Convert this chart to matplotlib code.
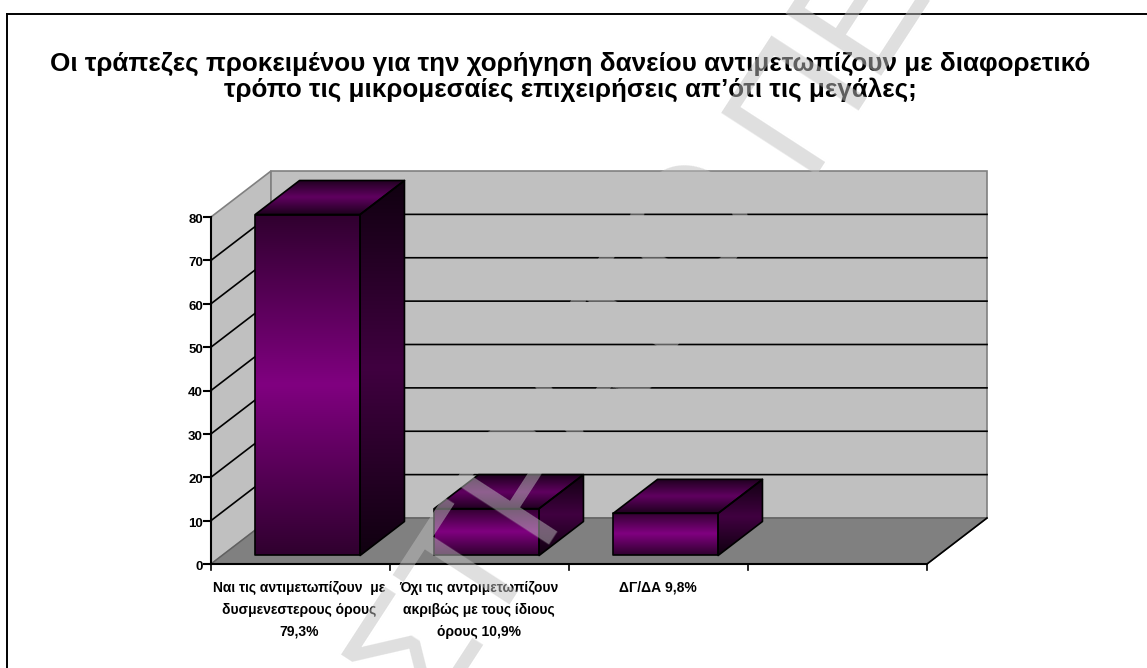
import matplotlib
matplotlib.use("Agg")
import matplotlib.pyplot as plt
import numpy as np
from matplotlib.patches import Polygon
from matplotlib.colors import LinearSegmentedColormap

TITLE = ("Οι τράπεζες προκειμένου για την χορήγηση δανείου αντιμετωπίζουν με διαφορετικό\n"
         "τρόπο τις μικρομεσαίες επιχειρήσεις απ’ότι τις μεγάλες;")
categories = ["Ναι τις αντιμετωπίζουν  με\nδυσμενεστερους όρους\n79,3%",
              "Όχι τις αντριμετωπίζουν\nακριβώς με τους ίδιους\nόρους 10,9%",
              "ΔΓ/ΔΑ 9,8%"]
values = [79.3, 10.9, 9.8]
y_ticks = [0, 10, 20, 30, 40, 50, 60, 70, 80]
n_slots = 4

W, H = 1147, 668
plt.rcParams["font.family"] = ["Liberation Sans", "DejaVu Sans"]
fig = plt.figure(figsize=(W / 100, H / 100), dpi=100)

# front plane of the 3d chart, in figure pixels
x0, x1, y0, y1 = 211, 927, 564, 217
px_x = (x1 - x0) / n_slots
px_y = (y0 - y1) / 80
depth_x = 60 / px_x    # floor depth in category units
depth_y = 46 / px_y    # floor depth in value units
bar_scale = 4.3 / px_y  # bars come out slightly shorter than the wall scale

# axes fill the figure, the limits put the category and value scales in place
ax = fig.add_axes([0, 0, 1, 1])
ax.axis("off")


def proj(x, y, d):
    return (x + d * depth_x, y + d * depth_y)


def shaded(pts, cmap):
    poly = Polygon(pts, closed=True, fc="none", ec="black", lw=1.2, zorder=5, joinstyle="round")
    ax.add_patch(poly)
    xs, ys = zip(*pts)
    grad = np.abs(np.linspace(-1, 1, 128)).reshape(-1, 1)
    im = ax.imshow(grad, cmap=cmap, vmin=0, vmax=1, aspect="auto", zorder=4, interpolation="bilinear",
                   extent=(min(xs), max(xs), min(ys), max(ys)), origin="lower")
    im.set_clip_path(poly)


front = LinearSegmentedColormap.from_list("front", ["#800080", "#30002f"])
side = LinearSegmentedColormap.from_list("side", ["#400040", "#100010"])
top = LinearSegmentedColormap.from_list("top", ["#600060", "#200020"])

# walls and floor
wall = "#c0c0c0"
edge = "#808080"
ax.add_patch(Polygon([proj(0, 0, 0), proj(0, 80, 0), proj(0, 80, 1), proj(0, 0, 1)],
                     fc=wall, ec=edge, lw=1.2, zorder=1))
ax.add_patch(Polygon([proj(0, 0, 1), proj(0, 80, 1), proj(n_slots, 80, 1), proj(n_slots, 0, 1)],
                     fc=wall, ec=edge, lw=1.2, zorder=1))
ax.add_patch(Polygon([proj(0, 0, 0), proj(0, 0, 1), proj(n_slots, 0, 1), proj(n_slots, 0, 0)],
                     fc="#808080", ec="#606060", lw=1, zorder=1))

# gridlines run along the side wall and across the back wall
for t in y_ticks[1:-1]:
    pts = [proj(0, t, 0), proj(0, t, 1), proj(n_slots, t, 1)]
    ax.plot(*zip(*pts), color="black", lw=1.2, zorder=2, solid_joinstyle="miter")
ax.plot(*zip(proj(n_slots, 0, 0), proj(n_slots, 0, 1)), color="black", lw=1.2, zorder=2)

# axis lines and ticks
ax.plot([0, 0], [0, 80], color="black", lw=1.5, zorder=6)
ax.plot([0, n_slots], [0, 0], color="black", lw=1.5, zorder=6)
for t in y_ticks:
    ax.plot([-7 / px_x, 0], [t, t], color="black", lw=1.5, zorder=6)
    ax.text(-8 / px_x, t - 3 / px_y, str(t), ha="right", va="center", fontsize=9.5, fontweight="bold", zorder=6)
for i in range(n_slots + 1):
    ax.plot([i, i], [0, -6 / px_y], color="black", lw=1.2, zorder=6)

# the three bars
d_front, d_back = 0.185, 0.924
half = 0.293
for i, v in enumerate(values):
    left, right = i + 0.478 - half, i + 0.478 + half
    h = v * bar_scale
    a = proj(left, 0, d_front)
    b = proj(right, 0, d_front)
    c = proj(right, h, d_front)
    e = proj(left, h, d_front)
    b2 = proj(right, 0, d_back)
    c2 = proj(right, h, d_back)
    e2 = proj(left, h, d_back)
    shaded([a, b, c, e], front)
    shaded([b, b2, c2, c], side)
    shaded([e, c, c2, e2], top)

# category labels, centred under each slot
label_y = 581
for i, label in enumerate(categories):
    ax.text(i + 0.495, (y0 - label_y) / px_y, label, ha="center", va="top", fontsize=10,
            fontweight="bold", linespacing=1.72, zorder=6)

ax.set_xlim(-x0 / px_x, (W - x0) / px_x)
ax.set_ylim((y0 - H) / px_y, y0 / px_y)

fig.text(570 / W, 1 - 52 / H, TITLE, ha="center", va="top", fontsize=18.7, fontweight="bold",
         linespacing=1.07, zorder=10)

# page frame, only top and left edges are in view
fig.add_artist(plt.Line2D([7 / W, 7 / W], [0, 1 - 14 / H], color="black", lw=1.4))
fig.add_artist(plt.Line2D([7 / W, 1], [1 - 14 / H, 1 - 14 / H], color="black", lw=1.4))

# diagonal stamp over the page, set in two runs to get the wider gap before Π
for word, sx, sy in [("ΣΤΡΑΤΟ", 428, 718), ("ΠΕΔΟ", 804, 175)]:
    fig.text(sx / W, 1 - sy / H, word, rotation=57, rotation_mode="anchor", ha="left", va="baseline",
             fontsize=119, color="#c0c0c0", alpha=0.5, zorder=20)

fig.savefig("out.png", dpi=100)
